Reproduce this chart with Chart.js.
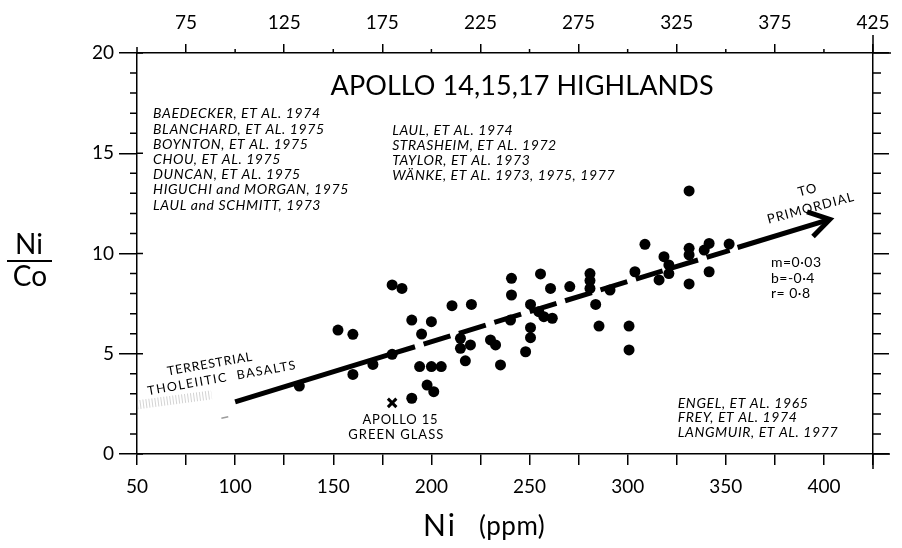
<!DOCTYPE html>
<html>
<head>
<meta charset="utf-8">
<script src="https://cdn.jsdelivr.net/npm/chart.js@4.4.1/dist/chart.umd.min.js"></script>
<style>
  html, body { margin: 0; padding: 0; background: #fff; }
</style>
</head>
<body>
<canvas id="chart" width="902" height="548"></canvas>
<script>
// ========================
// DATA
// ========================
const niPpm = [
  132.7, 152.4, 160, 160, 170.2, 180, 185, 180, 190, 200, 195, 190,
  194, 200, 205, 197.8, 201.2, 210.5, 220.4, 214.8, 214.8, 219.9, 217.3,
  230.1, 232.7, 235.2, 240.8, 240.8, 240.3, 255.6, 260.7, 250.5, 254.7,
  257.3, 261.6, 250.5, 250.5, 248, 270.5, 280.8, 280.8, 280.8, 283.7,
  291, 285.4, 300.7, 300.7, 303.7, 308.8, 318.5, 321, 321, 316,
  331.3, 331.3, 331.3, 341.5, 339, 351.7, 341.5, 331.3
];
const niCoRatio = [
  3.39, 6.18, 5.97, 3.97, 4.47, 8.43, 8.26, 4.97, 6.68, 6.6, 5.98, 2.78,
  4.36, 4.36, 4.36, 3.44, 3.11, 7.4, 7.46, 5.77, 5.27, 5.44, 4.65,
  5.69, 5.44, 4.44, 8.76, 7.93, 6.68, 8.98, 8.26, 7.46, 7.1,
  6.85, 6.77, 6.3, 5.8, 5.1, 8.35, 9.0, 8.65, 8.26, 7.46,
  8.18, 6.38, 6.38, 5.19, 9.09, 10.46, 9.84, 9.43, 9.0, 8.68,
  13.12, 10.26, 9.93, 10.5, 10.17, 10.47, 9.09, 8.48
];

// Apollo 15 green glass (x marker)
const greenGlassNi = [180];
const greenGlassRatio = [2.55];

// regression line m=0.03 b=-0.4, drawn in three pieces
const fitSolidNi = [100, 178];
const fitSolidRatio = [2.6, 4.94];
const fitDashNi = [178, 352];
const fitDashRatio = [4.94, 10.16];
const fitArrowNi = [356, 403];
const fitArrowRatio = [10.3, 11.7];

// terrestrial tholeiitic basalts (grey stipple)
const basaltNi = [50, 88];
const basaltRatio = [2.45, 2.95];
const basaltTailNi = [93, 96.5];
const basaltTailRatio = [1.78, 1.86];

// tick labels
const bottomTickLabels = [50, 100, 150, 200, 250, 300, 350, 400];
const topTickLabels = [75, 125, 175, 225, 275, 325, 375, 425];
const yTickLabels = [0, 5, 10, 15, 20];

const refsLeft = [
  'BAEDECKER, ET AL. 1974',
  'BLANCHARD, ET AL. 1975',
  'BOYNTON, ET AL. 1975',
  'CHOU, ET AL. 1975',
  'DUNCAN, ET AL. 1975',
  'HIGUCHI and MORGAN, 1975',
  'LAUL and SCHMITT, 1973'
];
const refsMid = [
  'LAUL, ET AL. 1974',
  'STRASHEIM, ET AL. 1972',
  'TAYLOR, ET AL. 1973',
  'WÄNKE, ET AL. 1973, 1975, 1977'
];
const refsRight = [
  'ENGEL, ET AL. 1965',
  'FREY, ET AL. 1974',
  'LANGMUIR, ET AL. 1977'
];
const fitStats = ['m=0·03', 'b=-0·4', 'r= 0·8'];

const FONT = 'Lato, "DejaVu Sans", sans-serif';
const pairs = (xs, ys) => xs.map((v, i) => ({ x: v, y: ys[i] }));

// ----------------- TEXT + EXTRA TICKS -----------------
// width > 0 : stretch letter spacing to that width, width < 0 : fixed spacing of -width px
function fitText(ctx, text, x, y, width, font, align = 'left', angle = 0) {
  ctx.save();
  ctx.font = font;
  ctx.letterSpacing = '0px';
  const w0 = ctx.measureText(text).width;
  let ls = 0;
  if (width > 0) ls = (width - w0) / Math.max(1, text.length - 1);
  else if (width < 0) ls = -width;
  ctx.letterSpacing = ls + 'px';
  ctx.translate(x, y);
  ctx.rotate(angle * Math.PI / 180);
  ctx.textAlign = align;
  ctx.textBaseline = 'middle';
  ctx.fillStyle = '#000';
  ctx.fillText(text, 0, 0);
  ctx.restore();
}

const extras = {
  id: 'extras',
  afterDraw(chart) {
    const { ctx, chartArea: a, scales } = chart;
    const xs = scales.x, ys = scales.y;
    const px = v => xs.getPixelForValue(v);
    const py = v => ys.getPixelForValue(v);

    ctx.save();
    ctx.strokeStyle = '#000';
    ctx.lineWidth = 1.5;
    ctx.beginPath();
    // top minor ticks
    for (let v = 100; v <= 400; v += 50) {
      ctx.moveTo(px(v), a.top); ctx.lineTo(px(v), a.top - 4);
    }
    for (let v = 0; v <= 20; v++) {
      if (v % 5) {
        ctx.moveTo(a.left - 7, py(v)); ctx.lineTo(a.left, py(v));
        ctx.moveTo(a.right, py(v)); ctx.lineTo(a.right + 8, py(v));
      } else {
        ctx.moveTo(a.left, py(v)); ctx.lineTo(a.left + 6, py(v));
      }
    }
    // frame overhangs
    ctx.moveTo(a.left, a.top); ctx.lineTo(a.left, a.top - 6);
    ctx.moveTo(a.right, a.top); ctx.lineTo(a.right, a.top - 18);
    ctx.moveTo(a.right, a.top); ctx.lineTo(a.right + 18, a.top);
    ctx.moveTo(a.right, a.bottom); ctx.lineTo(a.right, a.bottom + 15);
    ctx.moveTo(a.right, a.bottom); ctx.lineTo(a.right + 17, a.bottom);
    ctx.stroke();

    // arrow head
    const x0 = px(fitArrowNi[0]), y0 = py(fitArrowRatio[0]);
    const x1 = px(fitArrowNi[1]), y1 = py(fitArrowRatio[1]);
    const ang = Math.atan2(y1 - y0, x1 - x0);
    ctx.lineWidth = 5;
    ctx.lineCap = 'butt';
    ctx.lineJoin = 'miter';
    ctx.beginPath();
    ctx.moveTo(x1 + 24 * Math.cos(ang + Math.PI - 0.5), y1 + 24 * Math.sin(ang + Math.PI - 0.5));
    ctx.lineTo(x1, y1);
    ctx.lineTo(x1 + 24 * Math.cos(ang + Math.PI + 0.62), y1 + 24 * Math.sin(ang + Math.PI + 0.62));
    ctx.stroke();
    ctx.restore();

    // title
    fitText(ctx, 'APOLLO 14,15,17 HIGHLANDS', px(246.2), py(18.35), 383, `27px ${FONT}`, 'center');

    // reference lists
    refsLeft.forEach((t, i) => fitText(ctx, t, px(58.2), py(16.96) + i * 15.2, -0.6, `italic 14px ${FONT}`));
    refsMid.forEach((t, i) => fitText(ctx, t, px(180), py(16.12) + i * 15, -0.6, `italic 14px ${FONT}`));
    refsRight.forEach((t, i) => fitText(ctx, t, px(325.5), py(2.54) + i * 14.8, -0.6, `italic 14px ${FONT}`));

    // fit statistics
    fitStats.forEach((t, i) => fitText(ctx, t, px(373), py(9.54) + i * 15.3, -0.5, `14px ${FONT}`));

    // annotations
    fitText(ctx, 'TO', px(391.7), py(13.17), -1, `13px ${FONT}`, 'center', -15);
    fitText(ctx, 'PRIMORDIAL', px(393.4), py(12.27), 89, `13px ${FONT}`, 'center', -15);
    fitText(ctx, 'TERRESTRIAL', px(87.2), py(4.49), 86, `12.5px ${FONT}`, 'center', -10);
    fitText(ctx, 'THOLEIITIC  BASALTS', px(93.4), py(3.79), 150, `12.5px ${FONT}`, 'center', -10);
    fitText(ctx, 'APOLLO 15', px(184.2), py(1.7), 75, `13px ${FONT}`, 'center');
    fitText(ctx, 'GREEN GLASS', px(182.1), py(0.95), 95, `13px ${FONT}`, 'center');

    // y axis title  Ni / Co
    ctx.save();
    fitText(ctx, 'Ni', 29, 245, 0, `28px ${FONT}`, 'center');
    ctx.strokeStyle = '#000';
    ctx.lineWidth = 2;
    ctx.beginPath(); ctx.moveTo(7, 261); ctx.lineTo(52, 261); ctx.stroke();
    fitText(ctx, 'Co', 30, 277, 0, `28px ${FONT}`, 'center');
    ctx.restore();

    // x axis title
    fitText(ctx, 'Ni', 423, 526, -2, `30px ${FONT}`);
    fitText(ctx, '(ppm)', 479, 527, -0.5, `26px ${FONT}`);
  }
};

// ----------------- CHART -----------------
const axisBase = {
  type: 'linear',
  border: { display: true, color: '#000', width: 1.5 },
};

new Chart(document.getElementById('chart').getContext('2d'), {
  type: 'scatter',
  data: {
    datasets: [
      {
        label: 'basalts',
        data: pairs(basaltNi, basaltRatio),
        showLine: true,
        borderColor: 'rgba(130,130,130,0.35)',
        borderWidth: 9,
        borderDash: [1, 2],
        pointRadius: 0
      },
      {
        label: 'basalts tail',
        data: pairs(basaltTailNi, basaltTailRatio),
        showLine: true,
        borderColor: 'rgba(90,90,90,0.6)',
        borderWidth: 1.5,
        pointRadius: 0
      },
      {
        label: 'fit',
        data: pairs(fitSolidNi, fitSolidRatio),
        showLine: true,
        borderColor: '#000',
        borderWidth: 5,
        pointRadius: 0
      },
      {
        label: 'fit dashed',
        data: pairs(fitDashNi, fitDashRatio),
        showLine: true,
        borderColor: '#000',
        borderWidth: 5,
        borderDash: [28, 9],
        pointRadius: 0
      },
      {
        label: 'to primordial',
        data: pairs(fitArrowNi, fitArrowRatio),
        showLine: true,
        borderColor: '#000',
        borderWidth: 5,
        pointRadius: 0
      },
      {
        label: 'highlands',
        data: pairs(niPpm, niCoRatio),
        backgroundColor: '#000',
        borderWidth: 0,
        pointRadius: 5.5,
        pointHoverRadius: 5.5
      },
      {
        label: 'green glass',
        data: pairs(greenGlassNi, greenGlassRatio),
        pointStyle: 'crossRot',
        borderColor: '#000',
        borderWidth: 3,
        pointRadius: 6
      }
    ]
  },
  options: {
    responsive: false,
    animation: false,
    layout: { padding: 0 },
    plugins: { legend: { display: false }, tooltip: { enabled: false } },
    scales: {
      x: {
        ...axisBase,
        position: 'bottom',
        min: 50, max: 425,
        afterFit: s => { s.height = 94; },
        grid: { drawOnChartArea: false, tickLength: 11, tickColor: '#000', lineWidth: 1.5 },
        ticks: {
          stepSize: 25, autoSkip: false, maxRotation: 0, padding: 10,
          color: '#000', font: { family: FONT, size: 19 },
          callback: v => bottomTickLabels.includes(v) ? String(v) : ''
        }
      },
      x2: {
        ...axisBase,
        position: 'top',
        min: 50, max: 425,
        afterFit: s => { s.height = 53; },
        grid: {
          drawOnChartArea: false, tickLength: 9, lineWidth: 1.5,
          tickColor: c => (c.tick && topTickLabels.includes(c.tick.value)) ? '#000' : 'rgba(0,0,0,0)'
        },
        ticks: {
          stepSize: 25, autoSkip: false, maxRotation: 0, padding: 10,
          color: '#000', font: { family: FONT, size: 19 },
          callback: v => topTickLabels.includes(v) ? String(v) : ''
        }
      },
      y: {
        ...axisBase,
        position: 'left',
        min: 0, max: 20,
        afterFit: s => { s.width = 137; },
        grid: {
          drawOnChartArea: false, tickLength: 18, lineWidth: 1.5,
          tickColor: c => (c.tick && yTickLabels.includes(c.tick.value)) ? '#000' : 'rgba(0,0,0,0)'
        },
        ticks: {
          stepSize: 1, autoSkip: false, padding: 5,
          color: '#000', font: { family: FONT, size: 19 },
          callback: v => yTickLabels.includes(v) ? String(v) : ''
        }
      },
      y2: {
        ...axisBase,
        position: 'right',
        min: 0, max: 20,
        afterFit: s => { s.width = 29; },
        grid: {
          drawOnChartArea: false, tickLength: 16, lineWidth: 1.5,
          tickColor: c => (c.tick && c.tick.value % 5 === 0) ? '#000' : 'rgba(0,0,0,0)'
        },
        ticks: { stepSize: 1, autoSkip: false, padding: 0, callback: () => '' }
      }
    }
  },
  plugins: [extras]
});
</script>
</body>
</html>
